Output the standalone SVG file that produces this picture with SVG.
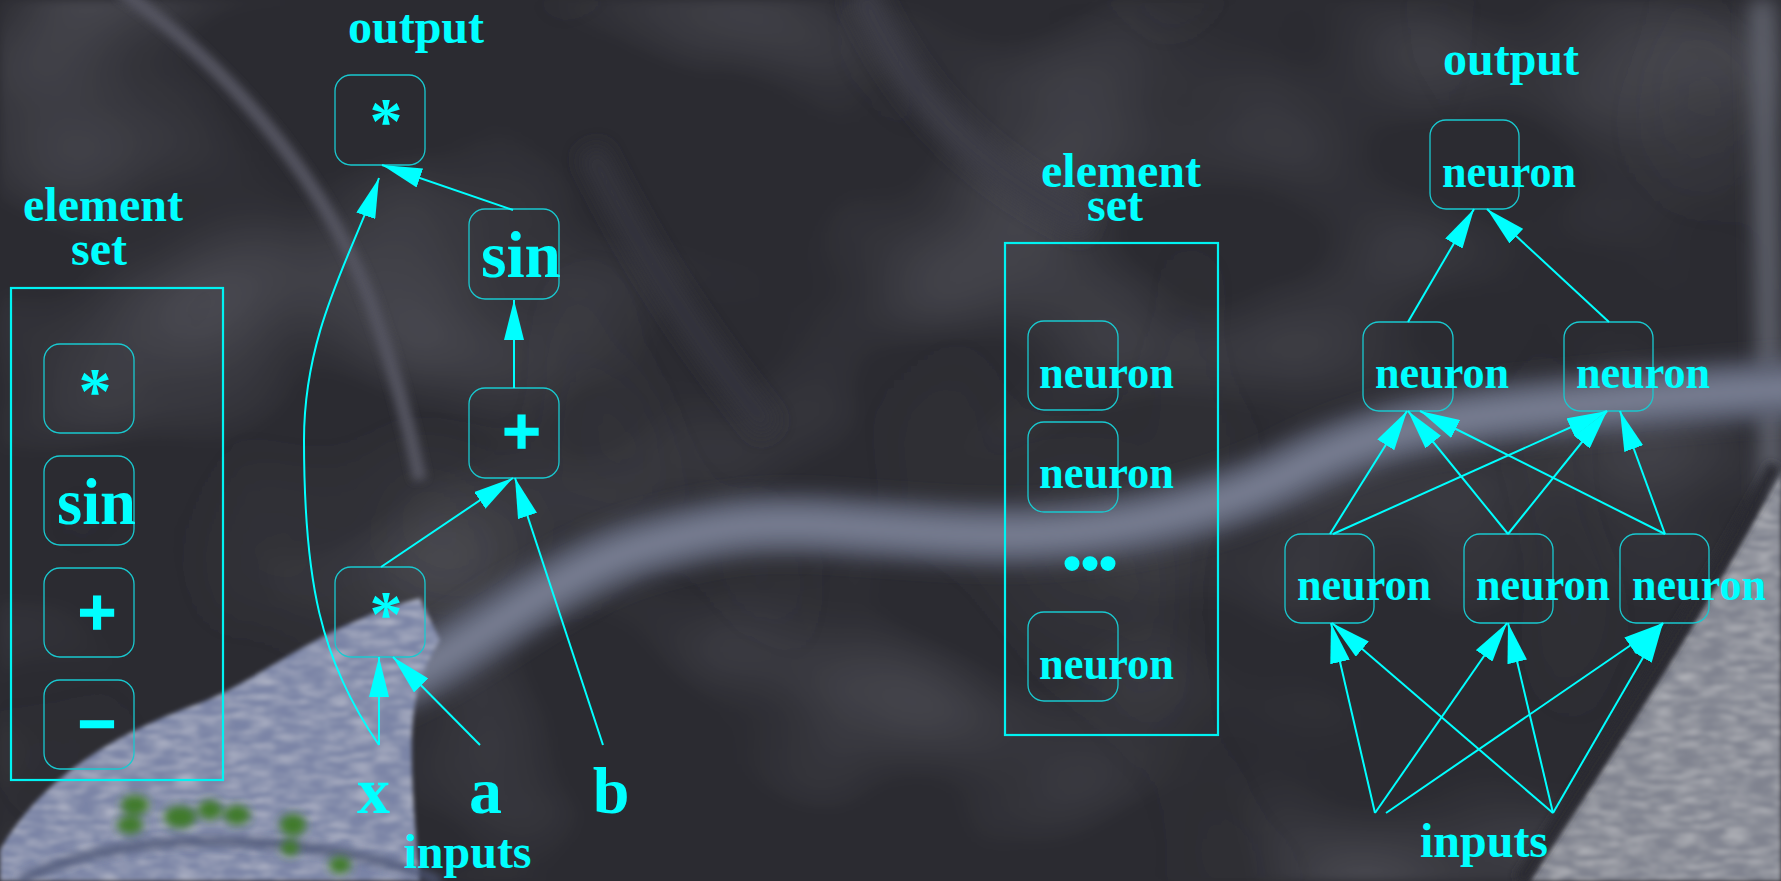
<svg xmlns="http://www.w3.org/2000/svg" width="1781" height="881" viewBox="0 0 1781 881">
<defs>
<style>
.t{font-family:"Liberation Serif","Times New Roman",serif;font-weight:bold;fill:#00ffff}
.lab{font-size:48px}
.op{font-size:66px}
.hv{stroke:#00ffff;stroke-width:3.5}
.nr{font-size:46px}
.box{fill:none;stroke:#19c9d0;stroke-width:1.3}
.set{fill:none;stroke:#00f2f2;stroke-width:2.2}
.c{fill:none;stroke:#00ffff;stroke-width:2;marker-end:url(#ah)}
</style>
<marker id="ah" markerUnits="userSpaceOnUse" markerWidth="40" markerHeight="20" refX="40" refY="10" orient="auto">
<path d="M0,0 L40,10 L0,20 z" fill="#00ffff"/>
</marker>
<filter id="b4" x="-50%" y="-50%" width="200%" height="200%"><feGaussianBlur stdDeviation="4"/></filter>
<filter id="b10" x="-50%" y="-50%" width="200%" height="200%"><feGaussianBlur stdDeviation="10"/></filter>
<filter id="mottle" x="0" y="0" width="100%" height="100%">
<feTurbulence type="fractalNoise" baseFrequency="0.0035 0.005" numOctaves="2" seed="11" result="n"/>
<feColorMatrix in="n" type="matrix" values="0 0 0 0 0.36 0 0 0 0 0.36 0 0 0 0 0.42 0.7 0 0 0 -0.33"/>
<feGaussianBlur stdDeviation="5"/>
</filter>
<filter id="mottle2" x="0" y="0" width="100%" height="100%">
<feTurbulence type="fractalNoise" baseFrequency="0.004 0.003" numOctaves="2" seed="5" result="n"/>
<feColorMatrix in="n" type="matrix" values="0 0 0 0 0.08 0 0 0 0 0.08 0 0 0 0 0.09 -0.8 0 0 0 0.36"/>
<feGaussianBlur stdDeviation="5"/>
</filter>
<filter id="tex" x="-10%" y="-10%" width="120%" height="120%">
<feTurbulence type="fractalNoise" baseFrequency="0.04 0.2" numOctaves="3" seed="4" result="n"/>
<feColorMatrix in="n" type="matrix" values="0 0 0 0 1 0 0 0 0 1 0 0 0 0 1 0.7 0 0 0 -0.28" result="w"/>
<feComposite in="w" in2="SourceGraphic" operator="in" result="wt"/>
<feMerge><feMergeNode in="SourceGraphic"/><feMergeNode in="wt"/></feMerge>
<feGaussianBlur stdDeviation="2"/>
</filter>
</defs>

<g id="background">
<rect width="1781" height="881" fill="#2b2b31"/>
<rect width="1781" height="881" filter="url(#mottle)"/>
<rect width="1781" height="881" filter="url(#mottle2)"/>
<g filter="url(#b10)" fill="none">
<path d="M860,-10 C900,80 960,160 1090,225" stroke="#3d3d47" stroke-width="30"/>
<path d="M590,150 C640,250 690,330 770,430" stroke="#35353e" stroke-width="26"/>
<path d="M1762,0 L1772,500" stroke="#62656f" stroke-width="22"/>
</g>
<path d="M120,-10 C220,60 320,170 370,300 C395,370 410,430 420,480" fill="none" stroke="#52535e" stroke-width="14" filter="url(#b4)"/>
<path d="M150,780 C230,740 300,715 390,685 C470,650 550,575 640,548 C720,525 760,522 820,525 C900,530 960,536 1020,535 C1120,532 1220,510 1300,468 C1380,428 1450,418 1550,408 C1650,398 1720,392 1800,388" fill="none" stroke="#5c6172" stroke-width="60" filter="url(#b10)"/>
<path d="M250,740 C300,715 340,700 390,685 C470,650 550,575 640,548 C720,525 760,522 820,525 C900,530 960,536 1020,535 C1120,532 1220,510 1300,468 C1380,428 1450,418 1550,408 C1650,398 1720,392 1800,388" fill="none" stroke="#7c8296" stroke-width="22" filter="url(#b10)"/>
<path d="M0,850 C40,780 110,735 200,703 C260,680 320,625 420,598 L440,640 C410,690 405,720 420,881 L0,881 Z" fill="#7a84a6" filter="url(#tex)"/>
<path d="M20,881 C80,850 160,838 240,842 C320,846 390,860 440,881" fill="none" stroke="#4e5674" stroke-width="8" filter="url(#b4)"/>
<g fill="#3f7a2c" filter="url(#b4)">
<ellipse cx="135" cy="805" rx="14" ry="10"/>
<ellipse cx="130" cy="825" rx="13" ry="9"/>
<ellipse cx="180" cy="817" rx="16" ry="11"/>
<ellipse cx="210" cy="810" rx="12" ry="10"/>
<ellipse cx="237" cy="815" rx="13" ry="10"/>
<ellipse cx="293" cy="825" rx="13" ry="11"/>
<ellipse cx="290" cy="848" rx="9" ry="8"/>
<ellipse cx="340" cy="865" rx="11" ry="9"/>
</g>
<path d="M1530,881 C1600,770 1690,640 1781,470 L1781,881 Z" fill="#80838f" filter="url(#tex)"/>
<path d="M1520,881 C1590,770 1680,640 1775,465" fill="none" stroke="#2a2a31" stroke-width="14" filter="url(#b4)"/>
</g>

<g id="left-element-set">
<text class="t lab" x="103" y="221" text-anchor="middle">element</text>
<text class="t lab" x="99" y="265" text-anchor="middle">set</text>
<rect class="set" x="11" y="288" width="212" height="492"/>
</g>
<g id="left-star"><rect class="box" x="44" y="344" width="90" height="89" rx="16"/><text class="t op" x="95" y="413" text-anchor="middle">*</text></g>
<g id="left-sin"><rect class="box" x="44" y="456" width="90" height="89" rx="16"/><text class="t op" x="96.5" y="524" text-anchor="middle" textLength="79" lengthAdjust="spacingAndGlyphs">sin</text></g>
<g id="left-plus"><rect class="box" x="44" y="568" width="90" height="89" rx="16"/><text class="t op hv" x="97" y="635" text-anchor="middle">+</text></g>
<g id="left-minus"><rect class="box" x="44" y="680" width="90" height="89" rx="16"/><text class="t op hv" x="97" y="746" text-anchor="middle">−</text></g>

<g id="tree-output-label"><text class="t lab" x="416" y="43" text-anchor="middle">output</text></g>
<g id="tree-star-top"><rect class="box" x="335" y="75" width="90" height="90" rx="16"/><text class="t op" x="386" y="143" text-anchor="middle">*</text></g>
<g id="tree-sin"><rect class="box" x="469" y="209" width="90" height="90" rx="16"/><text class="t op" x="521" y="277" text-anchor="middle" textLength="80" lengthAdjust="spacingAndGlyphs">sin</text></g>
<g id="tree-plus"><rect class="box" x="469" y="388" width="90" height="90" rx="16"/><text class="t op hv" x="521.5" y="454" text-anchor="middle">+</text></g>
<g id="tree-star-low"><rect class="box" x="335" y="567" width="90" height="90" rx="16"/><text class="t op" x="386" y="636" text-anchor="middle">*</text></g>
<g id="input-x"><text class="t op" x="373.5" y="813" text-anchor="middle">x</text></g>
<g id="input-a"><text class="t op" x="485.5" y="813" text-anchor="middle">a</text></g>
<g id="input-b"><text class="t op" x="611" y="813" text-anchor="middle">b</text></g>
<g id="tree-inputs-label"><text class="t lab" x="467.5" y="868" text-anchor="middle">inputs</text></g>

<g id="right-element-set">
<text class="t lab" x="1121" y="187" text-anchor="middle">element</text>
<text class="t lab" x="1115" y="221" text-anchor="middle">set</text>
<rect class="set" x="1005" y="243" width="213" height="492"/>
<text class="t" style="font-size:92px;letter-spacing:-5px" x="1060.5" y="570">...</text>
</g>
<g id="set-neuron-1"><rect class="box" x="1028" y="321" width="90" height="89" rx="16"/><text class="t nr" x="1039" y="388" textLength="135" lengthAdjust="spacingAndGlyphs">neuron</text></g>
<g id="set-neuron-2"><rect class="box" x="1028" y="422" width="90" height="90" rx="16"/><text class="t nr" x="1039" y="488" textLength="135" lengthAdjust="spacingAndGlyphs">neuron</text></g>
<g id="set-neuron-3"><rect class="box" x="1028" y="612" width="90" height="89" rx="16"/><text class="t nr" x="1039" y="679" textLength="135" lengthAdjust="spacingAndGlyphs">neuron</text></g>

<g id="net-output-label"><text class="t lab" x="1511" y="75" text-anchor="middle">output</text></g>
<g id="net-top"><rect class="box" x="1430" y="120" width="89" height="89" rx="16"/><text class="t nr" x="1442" y="187" textLength="134" lengthAdjust="spacingAndGlyphs">neuron</text></g>
<g id="net-mid-left"><rect class="box" x="1363" y="322" width="90" height="89" rx="16"/><text class="t nr" x="1375" y="388" textLength="134" lengthAdjust="spacingAndGlyphs">neuron</text></g>
<g id="net-mid-right"><rect class="box" x="1564" y="322" width="89" height="89" rx="16"/><text class="t nr" x="1576" y="388" textLength="134" lengthAdjust="spacingAndGlyphs">neuron</text></g>
<g id="net-bot-left"><rect class="box" x="1285" y="534" width="89" height="89" rx="16"/><text class="t nr" x="1297" y="600" textLength="134" lengthAdjust="spacingAndGlyphs">neuron</text></g>
<g id="net-bot-mid"><rect class="box" x="1464" y="534" width="89" height="89" rx="16"/><text class="t nr" x="1476" y="600" textLength="134" lengthAdjust="spacingAndGlyphs">neuron</text></g>
<g id="net-bot-right"><rect class="box" x="1620" y="534" width="89" height="89" rx="16"/><text class="t nr" x="1632" y="600" textLength="134" lengthAdjust="spacingAndGlyphs">neuron</text></g>
<g id="net-inputs-label"><text class="t lab" x="1484" y="857" text-anchor="middle">inputs</text></g>

<g id="connectors">
<line class="c" x1="513" y1="210" x2="382" y2="165"/>
<path class="c" d="M379,745 C320,660 304,580 304,440 C304,330 352,255 379,178"/>
<line class="c" x1="514" y1="388" x2="514" y2="300"/>
<line class="c" x1="381" y1="567" x2="513" y2="478"/>
<line class="c" x1="603" y1="745" x2="515" y2="478"/>
<line class="c" x1="379" y1="745" x2="379" y2="657"/>
<line class="c" x1="480" y1="745" x2="393" y2="657"/>

<line class="c" x1="1408" y1="322" x2="1474" y2="209"/>
<line class="c" x1="1609" y1="322" x2="1487" y2="209"/>
<line class="c" x1="1330" y1="534" x2="1407" y2="411"/>
<line class="c" x1="1333" y1="534" x2="1607" y2="411"/>
<line class="c" x1="1508" y1="534" x2="1408" y2="411"/>
<line class="c" x1="1508" y1="534" x2="1607" y2="411"/>
<line class="c" x1="1665" y1="534" x2="1420" y2="411"/>
<line class="c" x1="1665" y1="534" x2="1620" y2="411"/>
<line class="c" x1="1375" y1="813" x2="1331" y2="623"/>
<line class="c" x1="1375" y1="813" x2="1507" y2="623"/>
<line class="c" x1="1386" y1="813" x2="1663" y2="623"/>
<line class="c" x1="1553" y1="813" x2="1332" y2="623"/>
<line class="c" x1="1553" y1="813" x2="1508" y2="623"/>
<line class="c" x1="1553" y1="813" x2="1663" y2="623"/>
</g>
</svg>
